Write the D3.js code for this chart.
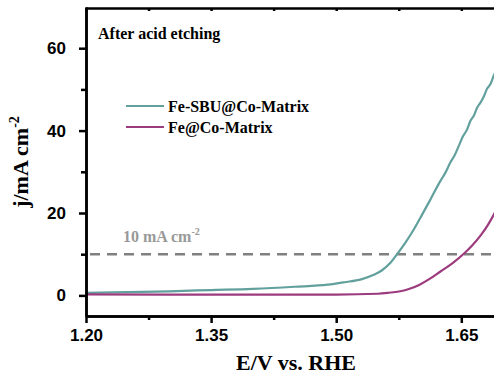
<!doctype html>
<html>
<head>
    <meta charset="utf8">
    <style>
        body { margin: 0; background: #fff; }
        .axis path, .axis line { stroke: #000; stroke-width: 2.5px; }
        .axis text { font-family: "Liberation Sans", Arial, sans-serif; font-weight: bold; font-size: 17px; fill: #000; }
        .serif { font-family: "Liberation Serif", "Times New Roman", serif; font-weight: bold; }
    </style>
    <script src="https://d3js.org/d3.v7.min.js"></script>
</head>
<body>
<svg width="494" height="380"></svg>
<script>

    // potential (V vs RHE) and current density (mA cm-2)
    var sbuE = [1.20, 1.25, 1.30, 1.35, 1.40, 1.45, 1.49, 1.51, 1.53, 1.545, 1.555, 1.565, 1.573,
                1.583, 1.593, 1.603, 1.613, 1.625, 1.631, 1.637, 1.642, 1.647, 1.652, 1.657, 1.661,
                1.665, 1.669, 1.673, 1.677, 1.681, 1.685, 1.689, 1.695];
    var sbuJ = [0.6, 0.8, 1.0, 1.3, 1.6, 2.1, 2.6, 3.2, 3.9, 5.0, 6.1, 7.9, 10.0,
                12.8, 16.0, 19.6, 23.3, 27.8, 29.8, 32.3, 34.0, 36.3, 38.6, 40.3, 42.4,
                43.6, 45.6, 46.8, 48.3, 50.2, 51.3, 53.4, 55.5];

    var feE = [1.20, 1.30, 1.40, 1.50, 1.55, 1.565, 1.577, 1.588, 1.60, 1.612, 1.625, 1.64,
               1.653, 1.663, 1.673, 1.681, 1.689, 1.695];
    var feJ = [0.25, 0.2, 0.2, 0.2, 0.4, 0.7, 1.0, 1.6, 2.6, 4.0, 5.8, 7.9,
               10.1, 12.1, 14.5, 16.8, 19.6, 21.8];

    var seriesNames = ["Fe-SBU@Co-Matrix", "Fe@Co-Matrix"];
    var seriesColors = ["#62a09d", "#9c3b7d"];

    var xMajor = [1.20, 1.35, 1.50, 1.65],
        xMinor = [1.275, 1.425, 1.575],
        yMajor = [0, 20, 40, 60],
        yMinor = [10, 30, 50];
    var refLevel = 10;

    var svg = d3.select("svg");
    var padL = 86, padT = 8, padB = 316, padR = 503;

    var x = d3.scaleLinear().domain([1.20, 1.70]).range([padL, padR]),
        y = d3.scaleLinear().domain([-5, 70]).range([padB, padT - 1]);

    svg.append("defs").append("clipPath").attr("id", "clip")
       .append("rect").attr("x", padL).attr("y", padT).attr("width", padR - padL).attr("height", padB - padT);

    // reference line at 10 mA cm-2
    svg.append("line")
       .attr("x1", x(1.20) + 4).attr("x2", padR)
       .attr("y1", y(refLevel)).attr("y2", y(refLevel))
       .attr("stroke", "#808080")
       .attr("stroke-width", 2.5)
       .attr("stroke-dasharray", "10,7");

    svg.append("text")
       .attr("class", "serif")
       .attr("x", 123).attr("y", 242)
       .attr("font-size", "16px")
       .attr("fill", "#999")
       .text("10 mA cm")
       .append("tspan").attr("dy", -7).attr("font-size", "10px").text("-2");

    var line = d3.line()
        .x(function(d) { return x(d[0]); })
        .y(function(d) { return y(d[1]); })
        .curve(d3.curveMonotoneX);

    var series = [d3.zip(sbuE, sbuJ), d3.zip(feE, feJ)];

    svg.append("g").attr("clip-path", "url(#clip)")
       .selectAll("path")
       .data(series)
       .enter().append("path")
       .attr("d", line)
       .attr("fill", "none")
       .attr("stroke", function(d, i) { return seriesColors[i]; })
       .attr("stroke-width", 2.2);

    // axes
    svg.append("g").attr("class", "axis")
       .attr("transform", "translate(0," + padB + ")")
       .call(d3.axisBottom(x).tickValues(xMajor).tickFormat(d3.format(".2f")).tickSize(7).tickSizeOuter(0).tickPadding(6));
    svg.append("g").attr("class", "axis")
       .attr("transform", "translate(0," + padB + ")")
       .call(d3.axisBottom(x).tickValues(xMinor).tickFormat("").tickSize(4).tickSizeOuter(0));

    svg.append("g").attr("class", "axis")
       .attr("transform", "translate(0," + padT + ")")
       .call(d3.axisTop(x).tickValues(xMajor.concat(xMinor)).tickFormat("").tickSizeInner(-3).tickSizeOuter(0));

    svg.append("g").attr("class", "axis")
       .attr("transform", "translate(" + padL + ",0)")
       .call(d3.axisLeft(y).tickValues(yMajor).tickSize(7).tickSizeOuter(0).tickPadding(13));
    svg.append("g").attr("class", "axis")
       .attr("transform", "translate(" + padL + ",0)")
       .call(d3.axisLeft(y).tickValues(yMinor).tickFormat("").tickSize(5).tickSizeOuter(0));

    // axis titles
    svg.append("text")
       .attr("class", "serif")
       .attr("x", 296).attr("y", 370)
       .attr("text-anchor", "middle")
       .attr("font-size", "22px")
       .text("E/V vs. RHE");

    var yt = svg.append("text")
       .attr("class", "serif")
       .attr("transform", "translate(28,162) rotate(-90)")
       .attr("text-anchor", "middle")
       .attr("font-size", "22px")
       .text("j/mA cm");
    yt.append("tspan").attr("dy", -9).attr("font-size", "14px").text("-2");

    svg.append("text")
       .attr("class", "serif")
       .attr("x", 98).attr("y", 39)
       .attr("font-size", "16px")
       .text("After acid etching");

    // legend
    var legend = svg.selectAll(".legend")
       .data(seriesNames)
       .enter().append("g")
       .attr("class", "legend")
       .attr("transform", function(d, i) { return "translate(126," + (106 + i * 21) + ")"; });

    legend.append("line")
       .attr("x1", 0).attr("x2", 38)
       .attr("stroke", function(d, i) { return seriesColors[i]; })
       .attr("stroke-width", 2.2);

    legend.append("text")
       .attr("class", "serif")
       .attr("x", 42).attr("y", 5.5)
       .attr("font-size", "16px")
       .text(function(d) { return d; });

</script>
</body>
</html>
